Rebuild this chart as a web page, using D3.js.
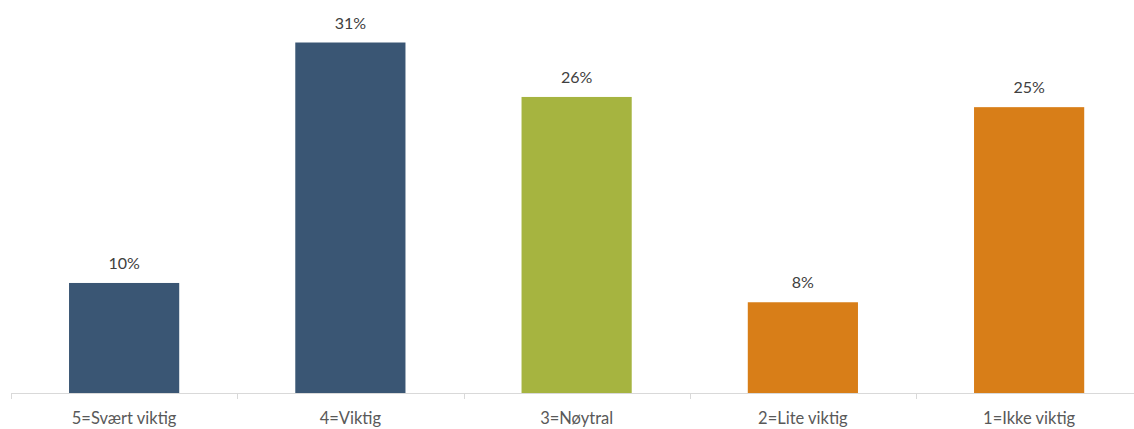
<!DOCTYPE html>
<html><head><meta charset="utf-8">
<script src="https://cdn.jsdelivr.net/npm/d3@7"></script>
<style>body{margin:0;background:#fff}svg{display:block}</style>
</head><body>
<svg id="c" width="1134" height="429"></svg>
<script>
const categories = ["5=Svært viktig","4=Viktig","3=Nøytral","2=Lite viktig","1=Ikke viktig"];
const values = [9.7, 30.9, 26.1, 8.0, 25.2];
const colors = ["#3A5674","#3A5674","#A6B440","#D87E18","#D87E18"];

const svg = d3.select("#c");
const baseY = 393;
const x = d3.scaleBand().domain(categories).range([11, 11 + 5*226.25]).paddingInner(0.513).paddingOuter(0.2565);
const y = d3.scaleLinear().domain([0, 35]).range([baseY, baseY - 397]);

svg.selectAll("rect.bar").data(categories).join("rect")
  .attr("x", d => x(d)).attr("width", x.bandwidth())
  .attr("y", (d,i) => y(values[i])).attr("height", (d,i) => y(0) - y(values[i]))
  .attr("fill", (d,i) => colors[i]);

svg.selectAll("text.val").data(categories).join("text")
  .attr("x", d => x(d) + x.bandwidth()/2)
  .attr("y", (d,i) => y(values[i]) - 14)
  .attr("text-anchor","middle")
  .attr("font-family","Lato, 'Open Sans', sans-serif").attr("font-size","16px")
  .attr("fill","#404040")
  .text((d,i) => Math.round(values[i]) + "%");

// axis
const step = x.step();
svg.append("line").attr("x1", 11).attr("x2", 1134).attr("y1", baseY+0.5).attr("y2", baseY+0.5)
  .attr("stroke","#D9D9D9").attr("stroke-width",1);
const bounds = d3.range(6).map(i => 11 + i*step);
svg.selectAll("line.tick").data(bounds).join("line")
  .attr("x1", d => Math.round(d)+0.5).attr("x2", d => Math.round(d)+0.5)
  .attr("y1", baseY).attr("y2", baseY+6)
  .attr("stroke","#D9D9D9");
svg.selectAll("text.cat").data(categories).join("text")
  .attr("x", d => x(d) + x.bandwidth()/2)
  .attr("y", 424)
  .attr("text-anchor","middle")
  .attr("font-family","Lato, 'Open Sans', sans-serif").attr("font-size","16.5px")
  .attr("fill","#595959")
  .text(d => d);
</script>
</body></html>
